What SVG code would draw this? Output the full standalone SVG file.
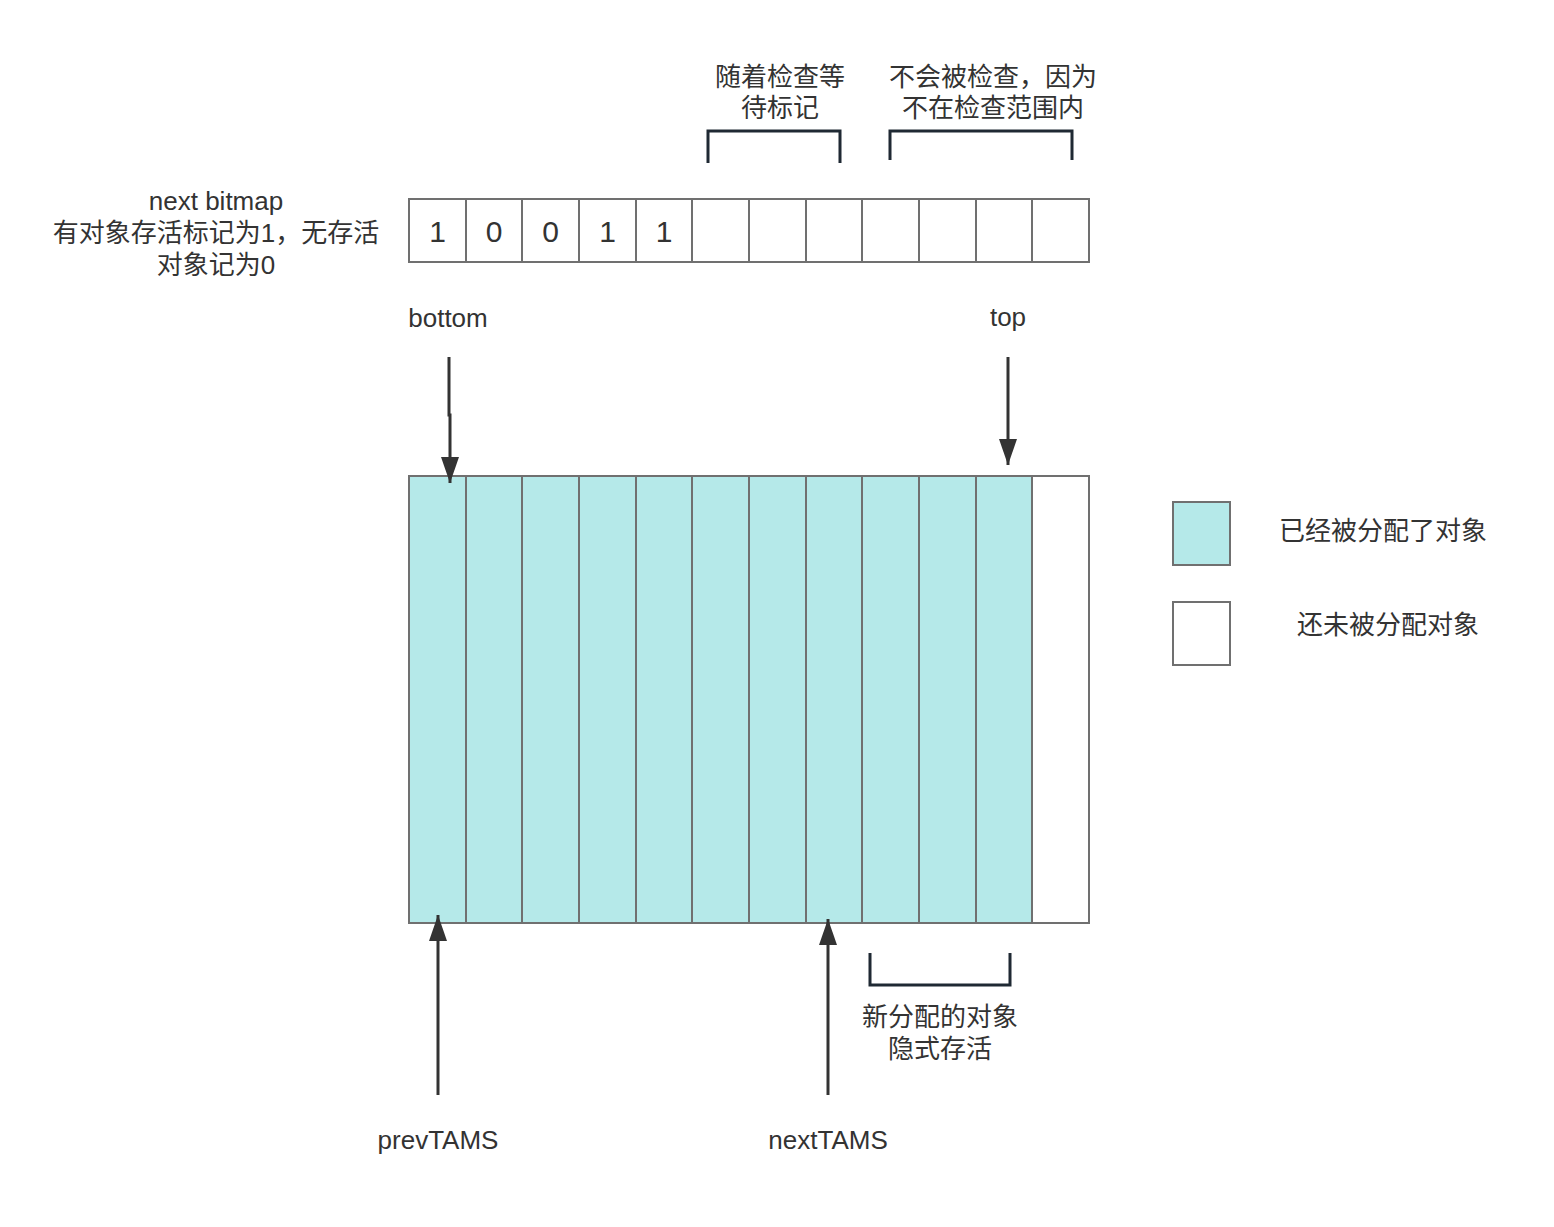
<svg xmlns="http://www.w3.org/2000/svg" width="1554" height="1227" viewBox="0 0 1554 1227">
<style>
text{font-family:"Liberation Sans","Noto Sans CJK SC",sans-serif;font-size:26px;fill:#333;text-anchor:middle}
.d{font-size:30px}
.cell{fill:#fff;stroke:#707070;stroke-width:2}
.filled{fill:#b5e9e9;stroke:#707070;stroke-width:2}
.br{fill:none;stroke:#1f2933;stroke-width:3}
.ar{fill:none;stroke:#333;stroke-width:3}
</style>
<defs>
<marker id="ah" viewBox="0 0 26 18" refX="26" refY="9" markerWidth="26" markerHeight="18" markerUnits="userSpaceOnUse" orient="auto">
<path d="M0,0 L26,9 L0,18 Z" fill="#333"/>
</marker>
</defs>
<rect width="1554" height="1227" fill="#fff"/>
<g id="bitmap-label">
<text x="216" y="210">next bitmap</text>
<text x="216" y="242">有对象存活标记为1，无存活</text>
<text x="216" y="274">对象记为0</text>
</g>
<g id="bitmap">
<rect class="cell" x="409" y="199" width="57" height="63"/>
<rect class="cell" x="466" y="199" width="56" height="63"/>
<rect class="cell" x="522" y="199" width="57" height="63"/>
<rect class="cell" x="579" y="199" width="57" height="63"/>
<rect class="cell" x="636" y="199" width="56" height="63"/>
<rect class="cell" x="692" y="199" width="57" height="63"/>
<rect class="cell" x="749" y="199" width="57" height="63"/>
<rect class="cell" x="806" y="199" width="56" height="63"/>
<rect class="cell" x="862" y="199" width="57" height="63"/>
<rect class="cell" x="919" y="199" width="57" height="63"/>
<rect class="cell" x="976" y="199" width="56" height="63"/>
<rect class="cell" x="1032" y="199" width="57" height="63"/>
<text class="d" x="437.5" y="242">1</text>
<text class="d" x="494" y="242">0</text>
<text class="d" x="550.5" y="242">0</text>
<text class="d" x="607.5" y="242">1</text>
<text class="d" x="664" y="242">1</text>
</g>
<g id="bracket-pending">
<path class="br" d="M708,163 V131 H840 V163"/>
<text x="780" y="86">随着检查等</text>
<text x="780" y="117">待标记</text>
</g>
<g id="bracket-unchecked">
<path class="br" d="M890,160 V131 H1072 V160"/>
<text x="993" y="86">不会被检查，因为</text>
<text x="993" y="117">不在检查范围内</text>
</g>
<g id="label-bottom"><text x="448" y="327">bottom</text></g>
<g id="label-top"><text x="1008" y="326">top</text></g>
<g id="region">
<rect class="filled" x="409" y="476" width="57" height="447"/>
<rect class="filled" x="466" y="476" width="56" height="447"/>
<rect class="filled" x="522" y="476" width="57" height="447"/>
<rect class="filled" x="579" y="476" width="57" height="447"/>
<rect class="filled" x="636" y="476" width="56" height="447"/>
<rect class="filled" x="692" y="476" width="57" height="447"/>
<rect class="filled" x="749" y="476" width="57" height="447"/>
<rect class="filled" x="806" y="476" width="56" height="447"/>
<rect class="filled" x="862" y="476" width="57" height="447"/>
<rect class="filled" x="919" y="476" width="57" height="447"/>
<rect class="filled" x="976" y="476" width="56" height="447"/>
<rect class="cell" x="1032" y="476" width="57" height="447"/>
</g>
<g id="bracket-new">
<path class="br" d="M870,953 V985 H1010 V953"/>
<text x="940" y="1026">新分配的对象</text>
<text x="940" y="1058">隐式存活</text>
</g>
<g id="label-prevTAMS"><text x="438" y="1149">prevTAMS</text></g>
<g id="label-nextTAMS"><text x="828" y="1149">nextTAMS</text></g>
<g id="legend-allocated">
<rect class="filled" x="1173" y="502" width="57" height="63"/>
<text x="1383" y="540">已经被分配了对象</text>
</g>
<g id="legend-free">
<rect class="cell" x="1173" y="602" width="57" height="63"/>
<text x="1388" y="634">还未被分配对象</text>
</g>
<g id="connectors">
<path class="ar" d="M449,357 L449,415 L450,415 L450,483" marker-end="url(#ah)"/>
<path class="ar" d="M1008,357 L1008,465" marker-end="url(#ah)"/>
<path class="ar" d="M438,1095 L438,915" marker-end="url(#ah)"/>
<path class="ar" d="M828,1095 L828,919" marker-end="url(#ah)"/>
</g>
</svg>
